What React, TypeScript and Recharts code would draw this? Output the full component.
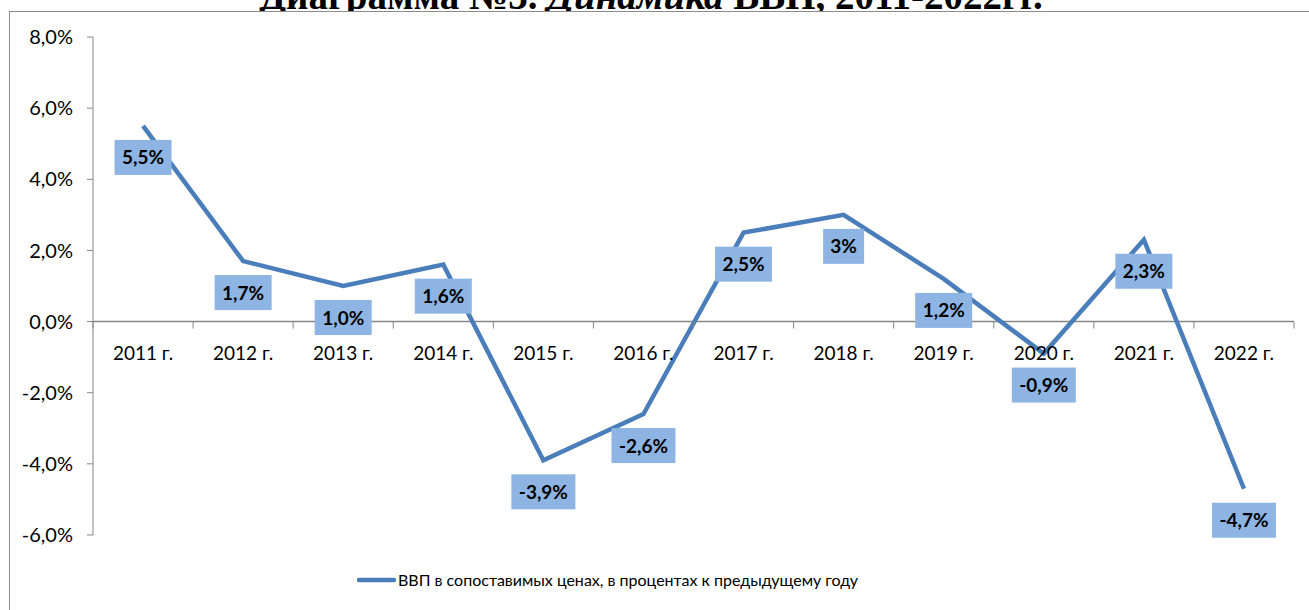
import React from 'react';
import { LineChart, Line, XAxis, YAxis, ReferenceLine, LabelList } from 'recharts';

const YEARS = ['2011 г.', '2012 г.', '2013 г.', '2014 г.', '2015 г.', '2016 г.', '2017 г.', '2018 г.', '2019 г.', '2020 г.', '2021 г.', '2022 г.'];
const GDP = [5.5, 1.7, 1.0, 1.6, -3.9, -2.6, 2.5, 3.0, 1.2, -0.9, 2.3, -4.7];
const GDP_LABELS = ['5,5%', '1,7%', '1,0%', '1,6%', '-3,9%', '-2,6%', '2,5%', '3%', '1,2%', '-0,9%', '2,3%', '-4,7%'];
const Y_TICKS = [-6, -4, -2, 0, 2, 4, 6, 8];

const data = YEARS.map((year, i) => ({ year, gdp: GDP[i], label: GDP_LABELS[i] }));

const W = 1309;
const H = 610;
const TOP = 37;
const BOTTOM = 75;
const LEFT = 93;
const RIGHT = 15;
const PLOT_H = H - TOP - BOTTOM;
const PLOT_W = W - LEFT - RIGHT;
const Y_MIN = Y_TICKS[0];
const Y_MAX = Y_TICKS[Y_TICKS.length - 1];
const ZERO_Y = TOP + (PLOT_H * Y_MAX) / (Y_MAX - Y_MIN);
const BAND = PLOT_W / YEARS.length;

const AXIS = '#868686';
const LINE = '#4A7EBB';
const BOX = '#8DB4E2';
const FONT = 'Lato, "Noto Sans", sans-serif';

const fmtY = (v: number) => v.toFixed(1).replace('.', ',') + '%';

const XTick = (props: any) => {
  const { x, index } = props;
  return (
    <g>
      {index === 0 && <line x1={x - BAND / 2} x2={x - BAND / 2} y1={ZERO_Y} y2={ZERO_Y + 7} stroke={AXIS} />}
      <line x1={x + BAND / 2} x2={x + BAND / 2} y1={ZERO_Y} y2={ZERO_Y + 7} stroke={AXIS} />
      <text x={x} y={ZERO_Y + 38} textAnchor="middle" fontSize={19} fontFamily={FONT} fill="#000">
        {props.payload.value}
      </text>
    </g>
  );
};

const charW = (s: string) =>
  s.split('').reduce((w, c) => w + (c === '%' ? 16 : c === ',' ? 5 : c === '-' ? 7 : 11), 0);

const BoxLabel = (props: any) => {
  const { x, y, value } = props;
  const w = charW(String(value)) + 14;
  const h = 35;
  const top = y + 14;
  return (
    <g>
      <rect x={x - w / 2} y={top} width={w} height={h} fill={BOX} />
      <text x={x} y={top + h / 2 + 7} textAnchor="middle" fontSize={19} fontWeight="bold" fontFamily={FONT} fill="#000">
        {value}
      </text>
    </g>
  );
};

export default function App() {
  return (
    <div style={{ position: 'absolute', left: 0, top: 0, width: W, height: H, overflow: 'hidden', background: '#fff' }}>
      <svg width={W} height={40} style={{ position: 'absolute', left: 0, top: 0 }}>
        <text x={651} y={9} textAnchor="middle" fontFamily='"Liberation Serif", serif' fontWeight="bold" fontSize={39} fill="#000">
          Диаграмма №3. <tspan fontStyle="italic">Динамика</tspan> ВВП, 2011-2022гг.
        </text>
      </svg>
      <div
        style={{
          position: 'absolute',
          left: 9,
          top: 11,
          width: W,
          height: H,
          background: '#fff',
          border: '1.5px solid #8c8c8c',
        }}
      />
      <div style={{ position: 'absolute', left: 0, top: 0 }}>
        <LineChart width={W} height={H} data={data} margin={{ top: TOP, right: RIGHT, bottom: BOTTOM - 1, left: 0 }}>
          <XAxis
            dataKey="year"
            scale="band"
            height={1}
            axisLine={false}
            tickLine={false}
            interval={0}
            tick={<XTick />}
          />
          <YAxis
            width={LEFT}
            domain={[Y_MIN, Y_MAX]}
            ticks={Y_TICKS}
            tickFormatter={fmtY}
            stroke={AXIS}
            tickSize={6}
            tickMargin={14}
            tick={{ fontSize: 20, fontFamily: FONT, fill: '#000' }}
            allowDataOverflow
          />
          <ReferenceLine y={0} stroke={AXIS} strokeWidth={1.5} />
          <Line
            type="linear"
            dataKey="gdp"
            stroke={LINE}
            strokeWidth={4.5}
            dot={false}
            isAnimationActive={false}
          >
            <LabelList dataKey="label" content={<BoxLabel />} />
          </Line>
        </LineChart>
      </div>
      <div
        style={{
          position: 'absolute',
          left: 357,
          top: 570,
          display: 'flex',
          alignItems: 'center',
          fontFamily: FONT,
          fontSize: 16,
          color: '#000',
          whiteSpace: 'nowrap',
        }}
      >
        <svg width={40} height={10}>
          <line x1={2} y1={5} x2={37} y2={5} stroke={LINE} strokeWidth={4.5} strokeLinecap="round" />
        </svg>
        <span style={{ marginLeft: 1 }}>ВВП в сопоставимых ценах, в процентах к предыдущему году</span>
      </div>
    </div>
  );
}
